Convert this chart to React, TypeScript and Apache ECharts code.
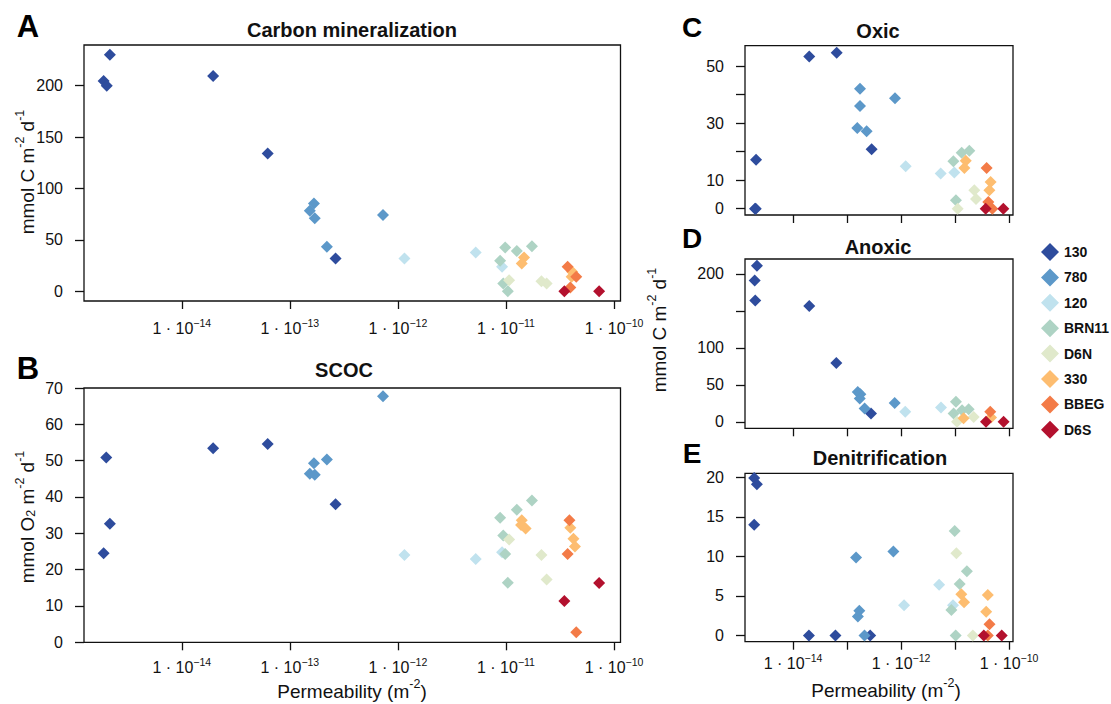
import React, { useEffect, useRef } from "react";
import * as echarts from "echarts";

const FONT = "'Liberation Sans', Arial, Helvetica, sans-serif";

const SITES = ["130", "780", "120", "BRN11", "D6N", "330", "BBEG", "D6S"];
const COLORS = ["#2E4C9D", "#5C98C9", "#C0E2EE", "#AED3C4", "#E0E9CB", "#FDBD70", "#F37B47", "#B3112E"];

// x tick exponents (permeability, m^-2)
const X_TICKS = [-14, -13, -12, -11, -10];

// ---------- Panel A: Carbon mineralization [permeability, mmol C m-2 d-1]
const carbon_130 = [[2.16e-15, 230], [1.89e-15, 204.5], [2.02e-15, 200], [1.95e-14, 209.5], [6.24e-14, 134], [2.65e-13, 31.8]];
const carbon_780 = [[1.67e-13, 85.4], [1.53e-13, 78.2], [1.7e-13, 71], [2.2e-13, 43.2], [7.28e-13, 74]];
const carbon_120 = [[1.15e-12, 31.8], [5.25e-12, 37.7], [9.2e-12, 23.7]];
const carbon_BRN11 = [[9.84e-12, 42.6], [8.83e-12, 29.5], [1.26e-11, 39], [1.74e-11, 43.8], [9.44e-12, 7.5], [1.04e-11, 0]];
const carbon_D6N = [[1.07e-11, 10.7], [2.13e-11, 9.7], [2.38e-11, 7.5]];
const carbon_330 = [[1.47e-11, 32.8], [1.4e-11, 27], [4.1e-11, 18.8], [4.05e-11, 14]];
const carbon_BBEG = [[3.72e-11, 23.7], [4.47e-11, 14], [3.94e-11, 3.6]];
const carbon_D6S = [[3.47e-11, 0], [7.28e-11, 0]];

// ---------- Panel B: SCOC [permeability, mmol O2 m-2 d-1]
const scoc_130 = [[1.89e-15, 24.5], [2.0e-15, 50.9], [2.16e-15, 32.6], [1.95e-14, 53.4], [6.24e-14, 54.6], [2.65e-13, 38]];
const scoc_780 = [[7.28e-13, 67.7], [1.67e-13, 49.3], [1.53e-13, 46.4], [1.7e-13, 46.1], [2.2e-13, 50.3]];
const scoc_120 = [[1.15e-12, 24], [5.25e-12, 22.9], [9.2e-12, 24.8]];
const scoc_BRN11 = [[8.83e-12, 34.3], [9.44e-12, 29.4], [1.26e-11, 36.5], [1.74e-11, 39], [9.84e-12, 24.3], [1.04e-11, 16.4]];
const scoc_D6N = [[1.07e-11, 28.3], [2.13e-11, 24], [2.38e-11, 17.3]];
const scoc_330 = [[1.4e-11, 33.6], [1.38e-11, 32.3], [1.52e-11, 31.3], [3.94e-11, 31.5], [4.21e-11, 28.5], [4.35e-11, 26.4]];
const scoc_BBEG = [[3.87e-11, 33.6], [3.72e-11, 24.3], [4.47e-11, 2.8]];
const scoc_D6S = [[3.47e-11, 11.4], [7.28e-11, 16.3]];

// ---------- Panel C: Oxic [permeability, mmol C m-2 d-1]
const oxic_130 = [[2.07e-15, 17.2], [1.98e-15, 0], [2.04e-15, 0], [2.0e-14, 53.4], [6.44e-14, 54.7], [2.86e-13, 20.9]];
const oxic_780 = [[1.74e-13, 42.1], [1.74e-13, 36], [1.55e-13, 28.3], [2.31e-13, 27.2], [7.74e-13, 38.8]];
const oxic_120 = [[1.22e-12, 14.9], [5.43e-12, 12.4], [9.72e-12, 12.7]];
const oxic_BRN11 = [[9.33e-12, 16.7], [1.33e-11, 19.6], [1.84e-11, 20.3], [1.04e-11, 3]];
const oxic_D6N = [[1.12e-11, 0], [2.28e-11, 6.5], [2.45e-11, 3.4]];
const oxic_330 = [[1.58e-11, 16.8], [1.49e-11, 14.3], [4.57e-11, 9.4], [4.33e-11, 6.5]];
const oxic_BBEG = [[3.85e-11, 14.3], [4.14e-11, 2.4], [4.91e-11, 0]];
const oxic_D6S = [[3.7e-11, 0], [7.85e-11, 0]];

// ---------- Panel D: Anoxic [permeability, mmol C m-2 d-1]
const anoxic_130 = [[2.15e-15, 211], [1.95e-15, 191], [2.0e-15, 164], [2.0e-14, 156.4], [6.34e-14, 79.6], [2.78e-13, 11.2]];
const anoxic_780 = [[1.58e-13, 40.4], [1.77e-13, 37.3], [1.72e-13, 31.5], [2.12e-13, 18], [7.64e-13, 25.6]];
const anoxic_120 = [[1.2e-12, 13.5], [5.5e-12, 19.3]];
const anoxic_BRN11 = [[1.04e-11, 27], [9.44e-12, 11.2], [1.35e-11, 15.7], [1.79e-11, 17]];
const anoxic_D6N = [[1.09e-11, 0], [2.22e-11, 6.7]];
const anoxic_330 = [[1.44e-11, 5], [4.65e-11, 5.8]];
const anoxic_BBEG = [[4.5e-11, 13.5]];
const anoxic_D6S = [[3.75e-11, 0], [7.94e-11, 0]];

// ---------- Panel E: Denitrification [permeability, mmol C m-2 d-1]
const denit_130 = [[1.91e-15, 19.9], [2.14e-15, 19.1], [1.91e-15, 14], [1.97e-14, 0], [6.1e-14, 0], [2.69e-13, 0]];
const denit_780 = [[1.47e-13, 9.85], [1.69e-13, 3.1], [1.59e-13, 2.4], [2.11e-13, 0], [7.23e-13, 10.6]];
const denit_120 = [[1.14e-12, 3.8], [5.08e-12, 6.4], [9.19e-12, 3.8]];
const denit_BRN11 = [[9.86e-12, 13.2], [1.66e-11, 8.1], [1.22e-11, 6.5], [8.57e-12, 3.2], [1.03e-11, 0]];
const denit_D6N = [[1.06e-11, 10.4], [2.14e-11, 0]];
const denit_330 = [[1.31e-11, 5.2], [1.47e-11, 4.2], [4.05e-11, 5.1], [3.78e-11, 3]];
const denit_BBEG = [[4.35e-11, 1.4], [4.05e-11, 0]];
const denit_D6S = [[3.42e-11, 0], [7.33e-11, 0]];

// y tick values / labels per panel
const A_Y_TICKS = [0, 50, 100, 150, 200];
const B_Y_TICKS = [0, 10, 20, 30, 40, 50, 60, 70];
const C_Y_TICKS = [0, 10, 20, 30, 40, 50];
const C_Y_LABELS = [0, 10, 30, 50];
const D_Y_TICKS = [0, 50, 100, 150, 200];
const D_Y_LABELS = [0, 50, 100, 200];
const E_Y_TICKS = [0, 5, 10, 15, 20];
const E_X_LABELS = [-14, -12, -10];

const PANELS = [
  {
    data: [carbon_130, carbon_780, carbon_120, carbon_BRN11, carbon_D6N, carbon_330, carbon_BBEG, carbon_D6S],
    grid: { left: 84, top: 45, width: 536.5, height: 256 },
    x: [-14.905, -9.94], y: [-9.6, 239.6],
    yTicks: A_Y_TICKS, yLabels: A_Y_TICKS, xLabels: X_TICKS, xMargin: 16,
  },
  {
    data: [scoc_130, scoc_780, scoc_120, scoc_BRN11, scoc_D6N, scoc_330, scoc_BBEG, scoc_D6S],
    grid: { left: 84, top: 388, width: 536.5, height: 254.3 },
    x: [-14.905, -9.94], y: [0, 70],
    yTicks: B_Y_TICKS, yLabels: B_Y_TICKS, xLabels: X_TICKS, xMargin: 14,
  },
  {
    data: [oxic_130, oxic_780, oxic_120, oxic_BRN11, oxic_D6N, oxic_330, oxic_BBEG, oxic_D6S],
    grid: { left: 745, top: 45.7, width: 268, height: 169.3 },
    x: [-14.889, -9.926], y: [-2.2, 57.2],
    yTicks: C_Y_TICKS, yLabels: C_Y_LABELS, xLabels: [], xMargin: 12,
  },
  {
    data: [anoxic_130, anoxic_780, anoxic_120, anoxic_BRN11, anoxic_D6N, anoxic_330, anoxic_BBEG, anoxic_D6S],
    grid: { left: 745, top: 259, width: 268, height: 169.3 },
    x: [-14.889, -9.926], y: [-8.7, 220],
    yTicks: D_Y_TICKS, yLabels: D_Y_LABELS, xLabels: [], xMargin: 12,
  },
  {
    data: [denit_130, denit_780, denit_120, denit_BRN11, denit_D6N, denit_330, denit_BBEG, denit_D6S],
    grid: { left: 745, top: 473.3, width: 268, height: 168.4 },
    x: [-14.889, -9.926], y: [-0.8, 20.5],
    yTicks: E_Y_TICKS, yLabels: E_Y_TICKS, xLabels: E_X_LABELS, xMargin: 11,
  },
];

const TITLES = [
  { text: "Carbon mineralization", x: 352, y: 30 },
  { text: "SCOC", x: 344, y: 370 },
  { text: "Oxic", x: 878, y: 31 },
  { text: "Anoxic", x: 878, y: 247 },
  { text: "Denitrification", x: 880, y: 458 },
];
const LETTERS = [
  { text: "A", x: 28, y: 26, size: 31 },
  { text: "B", x: 28, y: 368, size: 31 },
  { text: "C", x: 692, y: 27, size: 28 },
  { text: "D", x: 692, y: 238, size: 28 },
  { text: "E", x: 692, y: 453, size: 28 },
];

const nameRich = {
  b: { fontFamily: FONT, fontSize: 19, lineHeight: 24, verticalAlign: "bottom", fill: "#111" },
  s: { fontFamily: FONT, fontSize: 12.5, lineHeight: 12, verticalAlign: "top", fill: "#111" },
  u: { fontFamily: FONT, fontSize: 12.5, lineHeight: 12, verticalAlign: "bottom", fill: "#111" },
};

function nameText(x: number, y: number, text: string, rotate: boolean) {
  return {
    type: "text",
    x,
    y,
    rotation: rotate ? Math.PI / 2 : 0,
    style: { text, rich: nameRich, align: "center", verticalAlign: "middle" },
  };
}

export default function App() {
  const ref = useRef<HTMLDivElement>(null);
  useEffect(() => {
    if (!ref.current) return;
    const chart = echarts.init(ref.current, undefined, { renderer: "svg" });

    const grids = PANELS.map((p) => ({
      ...p.grid,
      show: true,
      borderColor: "#111",
      borderWidth: 1.3,
      backgroundColor: "transparent",
    }));

    const xAxes = PANELS.map((p, i) => ({
      type: "value",
      gridIndex: i,
      position: "bottom",
      min: p.x[0],
      max: p.x[1],
      axisLine: { show: false, onZero: false },
      splitLine: { show: false },
      axisTick: { show: true, length: 8, lineStyle: { color: "#111", width: 1.3 }, customValues: X_TICKS },
      axisLabel: {
        show: p.xLabels.length > 0,
        customValues: p.xLabels,
        margin: p.xMargin,
        color: "#111",
        formatter: (v: number) => `{b|1 · 10}{s|−${Math.round(-v)}}`,
        rich: {
          b: { fontFamily: FONT, fontSize: 16, lineHeight: 19, verticalAlign: "bottom", color: "#111" },
          s: { fontFamily: FONT, fontSize: 10.5, lineHeight: 11, verticalAlign: "top", color: "#111" },
        },
      },
    }));

    const yAxes = PANELS.map((p, i) => ({
      type: "value",
      gridIndex: i,
      position: "left",
      min: p.y[0],
      max: p.y[1],
      axisLine: { show: false, onZero: false },
      splitLine: { show: false },
      axisTick: { show: true, length: 9, lineStyle: { color: "#111", width: 1.3 }, customValues: p.yTicks },
      axisLabel: {
        customValues: p.yLabels,
        margin: 21,
        color: "#111",
        fontFamily: FONT,
        fontSize: 16,
      },
    }));

    const series: any[] = [];
    PANELS.forEach((p, i) => {
      p.data.forEach((arr, k) => {
        series.push({
          type: "scatter",
          name: SITES[k],
          xAxisIndex: i,
          yAxisIndex: i,
          symbol: "diamond",
          symbolSize: 12,
          itemStyle: { color: COLORS[k], opacity: 1 },
          emphasis: { disabled: true },
          data: arr.map(([perm, val]) => [Math.log10(perm), val]),
        });
      });
    });

    const graphic: any[] = [];
    TITLES.forEach((t) =>
      graphic.push({
        type: "text",
        x: t.x,
        y: t.y,
        style: { text: t.text, fontFamily: FONT, fontSize: 20, fontWeight: "bold", fill: "#111", align: "center", verticalAlign: "middle" },
      })
    );
    LETTERS.forEach((t) =>
      graphic.push({
        type: "text",
        x: t.x,
        y: t.y,
        style: { text: t.text, fontFamily: FONT, fontSize: t.size, fontWeight: "bold", fill: "#000", align: "center", verticalAlign: "middle" },
      })
    );
    graphic.push(nameText(25, 172, "{b|mmol C m}{s|-2}{b| d}{s|-1}", true));
    graphic.push(nameText(25, 517, "{b|mmol O}{u|2}{b| m}{s|-2}{b| d}{s|-1}", true));
    graphic.push(nameText(657, 330, "{b|mmol C m}{s|-2}{b| d}{s|-1}", true));
    graphic.push(nameText(352, 689, "{b|Permeability (m}{s|-2}{b|)}", false));
    graphic.push(nameText(886, 688, "{b|Permeability (m}{s|-2}{b|)}", false));

    chart.setOption({
      animation: false,
      backgroundColor: "#fff",
      grid: grids,
      xAxis: xAxes,
      yAxis: yAxes,
      series,
      legend: {
        orient: "vertical",
        left: 1041,
        top: 243,
        padding: 0,
        itemWidth: 18,
        itemHeight: 18,
        itemGap: 7.4,
        icon: "diamond",
        selectedMode: false,
        data: SITES,
        textStyle: { fontFamily: FONT, fontSize: 14, fontWeight: "bold", color: "#111" },
      },
      graphic,
    });

    return () => chart.dispose();
  }, []);

  return <div ref={ref} style={{ position: "absolute", left: 0, top: 0, width: 1111, height: 704, background: "#fff" }} />;
}
